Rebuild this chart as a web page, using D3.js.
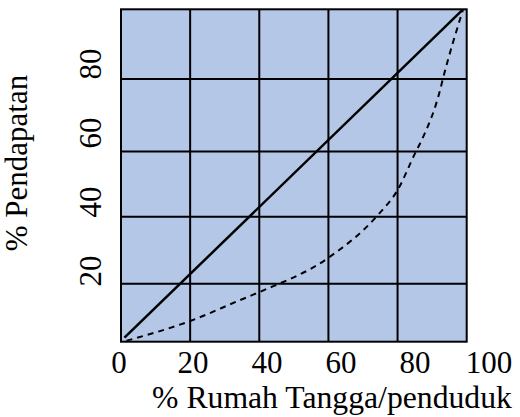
<!DOCTYPE html>
<html>
<head>
<meta charset="utf-8">
<script src="https://cdn.jsdelivr.net/npm/d3@7"></script>
<style>
  body { margin: 0; background: #fff; }
</style>
</head>
<body>
<div id="chart"></div>
<script>
let width = 520;
let height = 417;

// values (percent units)
let xTicks = [0, 20, 40, 60, 80, 100];
let yTicks = [20, 40, 60, 80];
let gridX = [20, 40, 60, 80];
let gridY = [17.4, 37.6, 57.2, 79];
let equality = [[1, 1.2], [98.8, 99.8]];
let lorenzX = [1.6, 20.2, 34.4, 40.2, 60.2, 74.3, 80, 85.3, 87, 92.3, 93.1, 98.9];
let lorenzY = [0.3, 6.3, 12.5, 15, 25.4, 38.1, 45.6, 57.2, 60.7, 75.7, 79, 99.8];

let serif = "'Liberation Serif', 'Times New Roman', Times, 'DejaVu Serif', serif";

let svg = d3.select('#chart')
  .append('svg')
  .attr('width', width)
  .attr('height', height)
  .attr('font-family', serif);

// plot box scales
let x = d3.scaleLinear().domain([0, 100]).range([121, 466.7]);
let y = d3.scaleLinear().domain([0, 100]).range([341.7, 9.3]);

// tick labels in the picture sit on a slightly wider spread than the grid
let xLabel = d3.scaleLinear().domain([0, 100]).range([119, 489]);
let yLabel = d3.scaleLinear().domain([0, 100]).range([340, -5]);

svg.append('rect')
  .attr('x', x(0))
  .attr('y', y(100))
  .attr('width', x(100) - x(0))
  .attr('height', y(0) - y(100))
  .attr('fill', '#b4c7e7');

svg.selectAll('.gx')
  .data(gridX)
  .enter()
  .append('line')
  .attr('x1', d => x(d))
  .attr('x2', d => x(d))
  .attr('y1', y(0))
  .attr('y2', y(100))
  .attr('stroke', '#000')
  .attr('stroke-width', 2);

svg.selectAll('.gy')
  .data(gridY)
  .enter()
  .append('line')
  .attr('x1', x(0))
  .attr('x2', x(100))
  .attr('y1', d => y(d))
  .attr('y2', d => y(d))
  .attr('stroke', '#000')
  .attr('stroke-width', 2);

svg.append('rect')
  .attr('x', x(0))
  .attr('y', y(100))
  .attr('width', x(100) - x(0))
  .attr('height', y(0) - y(100))
  .attr('fill', 'none')
  .attr('stroke', '#000')
  .attr('stroke-width', 2);

let line = d3.line()
  .x(d => x(d[0]))
  .y(d => y(d[1]));

svg.append('path')
  .attr('d', line(equality))
  .attr('fill', 'none')
  .attr('stroke', '#000')
  .attr('stroke-width', 2.5);

let lorenz = lorenzX.map((v, i) => [v, lorenzY[i]]);

svg.append('path')
  .attr('d', line.curve(d3.curveMonotoneX)(lorenz))
  .attr('fill', 'none')
  .attr('stroke', '#000')
  .attr('stroke-width', 2)
  .attr('stroke-dasharray', '6,5');

svg.selectAll('.xt')
  .data(xTicks)
  .enter()
  .append('text')
  .attr('x', d => xLabel(d))
  .attr('y', 373)
  .attr('text-anchor', 'middle')
  .attr('font-size', 31)
  .text(d => d);

svg.selectAll('.yt')
  .data(yTicks)
  .enter()
  .append('text')
  .attr('transform', d => 'translate(101,' + yLabel(d) + ') rotate(-90)')
  .attr('text-anchor', 'middle')
  .attr('font-size', 31)
  .text(d => d);

svg.append('text')
  .attr('x', 332)
  .attr('y', 408)
  .attr('text-anchor', 'middle')
  .attr('font-size', 31.7)
  .text('% Rumah Tangga/penduduk');

svg.append('text')
  .attr('transform', 'translate(27,163) rotate(-90)')
  .attr('text-anchor', 'middle')
  .attr('font-size', 31)
  .text('% Pendapatan');
</script>
</body>
</html>
